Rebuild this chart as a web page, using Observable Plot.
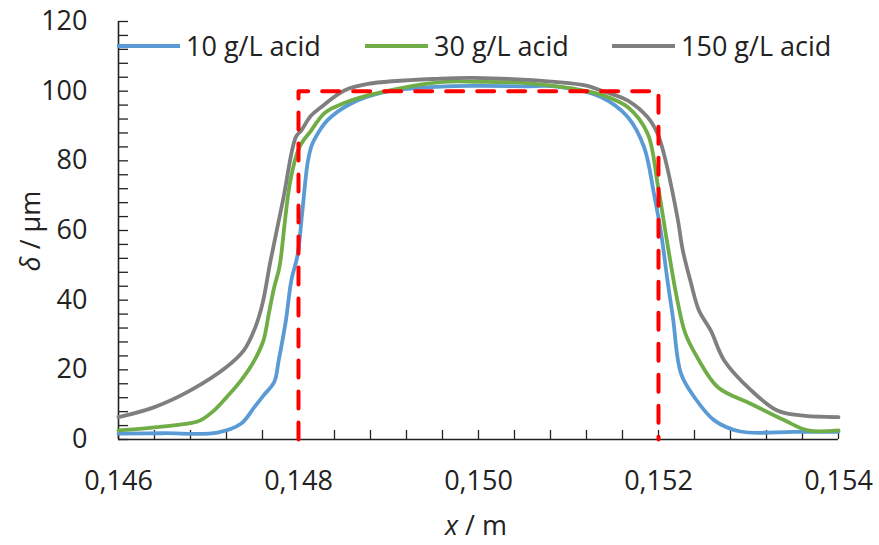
<!DOCTYPE html>
<html><head><meta charset="utf-8">
<script src="https://cdn.jsdelivr.net/npm/d3@7"></script>
<script src="https://cdn.jsdelivr.net/npm/@observablehq/plot@0.6"></script>
<style>
body{margin:0;background:#fff}
#wrap{position:relative;width:879px;height:545px}
</style>
</head><body><div id="wrap"></div>
<script>
// ---- data ----
const seriesNames = ["10 g/L acid", "30 g/L acid", "150 g/L acid"];
const seriesColors = ["#5B9BD5", "#70AD47", "#7F7F7F"];

const x10 = [0.1460,0.1465,0.1471,0.14736,0.14751,0.14761,0.14773,0.14778,0.14786,0.14792,0.14799,0.14804,0.1481,0.14814,0.14817,0.14832,0.14858,0.14895,0.14958,0.1500,0.1505,0.15088,0.15136,0.15166,0.15184,0.15195,0.15203,0.1521,0.15216,0.15225,0.1524,0.15262,0.15291,0.1535,0.1540];
const y10 = [1.7,1.8,2.0,4.5,9.3,12.6,16.5,22.7,34.2,45.6,53,64.8,79.2,83.9,85.8,91.6,96.4,99.7,101.3,101.5,101.4,101.3,98.3,92.5,83.9,70.5,59,45.6,35.1,18.9,12.1,5.5,2.3,2.2,2.2];

const x30 = [0.1460,0.1464,0.1468,0.14691,0.14706,0.1472,0.14736,0.14751,0.14761,0.14767,0.14773,0.14778,0.1478,0.14791,0.14801,0.14814,0.14828,0.1484,0.14877,0.14958,0.1500,0.1505,0.15106,0.15136,0.15166,0.15188,0.15199,0.1521,0.15221,0.1523,0.15243,0.15266,0.15303,0.1534,0.15366,0.1540];
const y30 = [2.6,3.5,4.7,5.5,8.3,12.1,16.9,22.7,28.4,36.1,43.7,48.5,51.4,74.4,83.9,88.7,93.5,95.4,98.8,102.6,102.7,102.4,100.7,99,95.4,87.8,73.4,56,39.9,30.3,23.6,15,10.2,5.5,2.6,2.6];

const x150 = [0.1460,0.1464,0.1468,0.1472,0.14739,0.14752,0.1476,0.14769,0.14783,0.14797,0.14803,0.14814,0.14825,0.14851,0.14877,0.14958,0.14995,0.15088,0.1512,0.15136,0.1515,0.15166,0.15188,0.15199,0.15206,0.15221,0.15227,0.15236,0.15245,0.15258,0.15273,0.15303,0.15332,0.15358,0.1540];
const y150 = [6.4,9.3,14.1,20.8,25.5,32.2,39,51.4,69,86.8,88.7,93,95.4,100.2,102.1,103.6,103.8,102.6,101.6,100.2,99,97.3,92.5,87.8,82,63.8,54.3,45,37,31.3,22.7,14.1,8.3,6.9,6.4];

const targetX = [0.148, 0.148, 0.152, 0.152];
const targetY = [0, 100, 100, 0];

const yTicks = [0, 20, 40, 60, 80, 100, 120];
const yMinor = d3.range(0, 121, 4);
const xTicks = [0.146, 0.148, 0.150, 0.152, 0.154];
const xMinor = d3.range(0, 21).map(i => 0.146 + i * 0.0004);

// ---- build ----
const xsAll = [x10, x30, x150], ysAll = [y10, y30, y150];
const rows = [];
seriesNames.forEach((name, i) => xsAll[i].forEach((x, j) => rows.push({series: name, x, y: ysAll[i][j]})));
const targetRows = targetX.map((x, i) => ({x, y: targetY[i]}));

const FONT = '"Open Sans", sans-serif';
const plot = Plot.plot({
  width: 879, height: 545,
  marginLeft: 118, marginRight: 41, marginTop: 21, marginBottom: 106,
  style: {fontFamily: FONT, fontSize: "27px", color: "#222", background: "white", overflow: "visible"},
  x: {domain: [0.146, 0.154]},
  y: {domain: [0, 120]},
  color: {domain: seriesNames, range: seriesColors},
  marks: [
    Plot.axisY({ticks: yMinor, tickSize: -10, tickFormat: () => "", label: null, strokeWidth: 1.3}),
    Plot.text(yTicks, {y: d => d, text: d => String(d), frameAnchor: "left", textAnchor: "end", dx: -31, fontSize: 27, fill: "#222"}),
    Plot.axisX({ticks: xMinor, tickSize: -9, tickFormat: () => "", label: null, strokeWidth: 1.3}),
    Plot.axisX({ticks: xTicks, tickSize: 0, tickPadding: 31, tickFormat: d => d.toFixed(3).replace(".", ","), label: null, fontSize: 27}),
    Plot.ruleX([0.146], {stroke: "#222", strokeWidth: 1.6}),
    Plot.ruleY([0], {stroke: "#222", strokeWidth: 1.6}),
    Plot.line(rows, {x: "x", y: "y", z: "series", stroke: "series", strokeWidth: 3.8, curve: "catmull-rom"}),
    Plot.line(targetRows, {x: "x", y: "y", stroke: "#FF0000", strokeWidth: 4, strokeDasharray: "17,14"})
  ]
});
document.getElementById("wrap").appendChild(plot);

// ---- legend & axis titles ----
const svg = d3.select(plot);
const leg = svg.append("g").attr("font-family", FONT).attr("font-size", 27).attr("fill", "#222").attr("text-anchor", "start");
const legX = [117, 365, 612];
seriesNames.forEach((name, i) => {
  leg.append("line").attr("x1", legX[i]).attr("x2", legX[i] + 63).attr("y1", 46).attr("y2", 46)
    .attr("stroke", seriesColors[i]).attr("stroke-width", 3.8);
  leg.append("text").attr("x", legX[i] + 69).attr("y", 56).attr("text-anchor", "start").text(name);
});
const yl = svg.append("text").attr("font-family", FONT).attr("font-size", 27).attr("fill", "#222")
  .attr("text-anchor", "middle").attr("transform", "translate(40,231) rotate(-90)");
yl.append("tspan").attr("font-style", "italic").text("δ");
yl.append("tspan").text(" / µm");
const xl = svg.append("text").attr("font-family", FONT).attr("font-size", 27).attr("fill", "#222")
  .attr("text-anchor", "middle").attr("x", 476).attr("y", 535);
xl.append("tspan").attr("font-style", "italic").text("x");
xl.append("tspan").text(" / m");
</script>
</body></html>
